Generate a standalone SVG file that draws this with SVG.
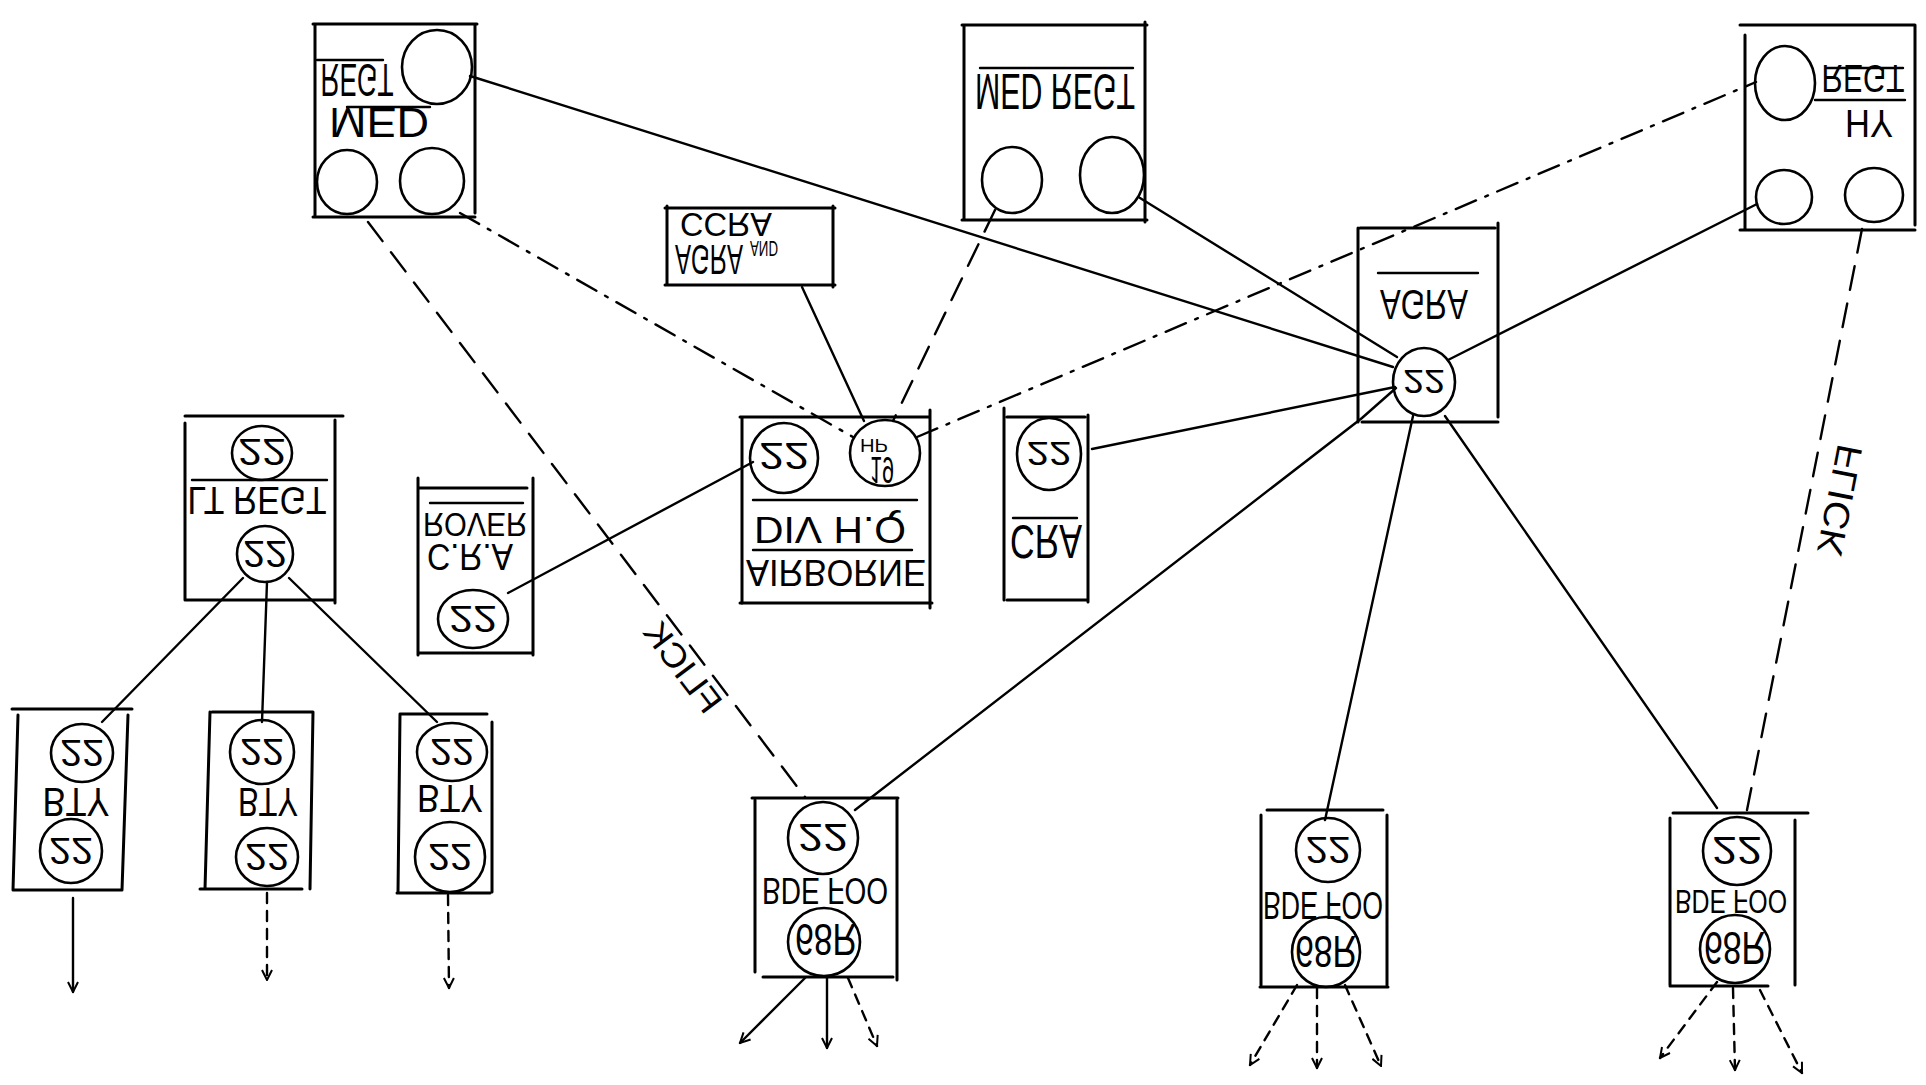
<svg xmlns="http://www.w3.org/2000/svg" width="1926" height="1085" viewBox="0 0 1926 1085">
<defs>
<style>
.b{fill:none;stroke:#000;stroke-width:3;stroke-linecap:round}
.c{fill:none;stroke:#000;stroke-width:2.6}
.l{fill:none;stroke:#000;stroke-width:2.4;stroke-linecap:round}
.t{font-family:"Liberation Sans",Arial,sans-serif;fill:#000;text-anchor:middle}
.d1{stroke-dasharray:24 14}
.d2{stroke-dasharray:22 10 3 10}
.d3{stroke-dasharray:10 8}
</style>
<marker id="v" viewBox="0 0 12 12" refX="11" refY="6" markerWidth="12" markerHeight="12" markerUnits="userSpaceOnUse" orient="auto">
<path d="M1,1 L11,6 L1,11" fill="none" stroke="#000" stroke-width="2"/>
</marker>
</defs>
<rect width="1926" height="1085" fill="#fff"/>

<g id="connectors">
<line class="l" x1="470" y1="76" x2="1393" y2="367"/>
<line class="l" x1="1140" y1="198" x2="1397" y2="357"/>
<line class="l d1" x1="995" y1="210" x2="893" y2="421" stroke-width="3.2"/>
<line class="l" x1="802" y1="287" x2="864" y2="421"/>
<line class="l d2" x1="460" y1="213" x2="853" y2="437"/>
<line class="l d1" x1="368" y1="222" x2="805" y2="797"/>
<line class="l d2" x1="917" y1="437" x2="1756" y2="82"/>
<line class="l" x1="1092" y1="449" x2="1395" y2="387" stroke-width="3"/>
<polyline class="l" points="1396,388 1362,418 855,810"/>
<line class="l" x1="1448" y1="360" x2="1757" y2="204"/>
<line class="l" x1="1413" y1="416" x2="1325" y2="820"/>
<line class="l" x1="1445" y1="416" x2="1717" y2="808"/>
<line class="l d1" x1="1862" y1="229" x2="1747" y2="810" stroke-width="3"/>
<line class="l" x1="508" y1="593" x2="753" y2="462"/>
<line class="l" x1="243" y1="578" x2="102" y2="722"/>
<line class="l" x1="267" y1="582" x2="262" y2="722"/>
<line class="l" x1="289" y1="578" x2="437" y2="722"/>
<line class="l" x1="73" y1="898" x2="73" y2="992" marker-end="url(#v)"/>
<line class="l d3" x1="267" y1="893" x2="267" y2="980" marker-end="url(#v)"/>
<line class="l d3" x1="448" y1="895" x2="449" y2="988" marker-end="url(#v)"/>
<line class="l" x1="805" y1="978" x2="740" y2="1043" stroke-width="3.2" marker-end="url(#v)"/>
<line class="l" x1="827" y1="978" x2="827" y2="1048" marker-end="url(#v)"/>
<line class="l d3" x1="848" y1="978" x2="877" y2="1046" marker-end="url(#v)"/>
<line class="l d3" x1="1297" y1="985" x2="1250" y2="1065" marker-end="url(#v)"/>
<line class="l d3" x1="1317" y1="988" x2="1317" y2="1068" marker-end="url(#v)"/>
<line class="l d3" x1="1345" y1="985" x2="1381" y2="1066" marker-end="url(#v)"/>
<line class="l d3" x1="1717" y1="982" x2="1660" y2="1058" marker-end="url(#v)"/>
<line class="l d3" x1="1733" y1="988" x2="1735" y2="1070" marker-end="url(#v)"/>
<line class="l d3" x1="1760" y1="990" x2="1802" y2="1073" marker-end="url(#v)"/>
<text class="t" font-size="34" textLength="105" lengthAdjust="spacingAndGlyphs" y="12" transform="translate(683,667) scale(1,-1) rotate(127.2)">FLICK</text>
<text class="t" font-size="36" textLength="112" lengthAdjust="spacingAndGlyphs" y="12" transform="translate(1840,500) scale(1,-1) rotate(-101)">FLICK</text>
</g>

<g id="med-regt-1">
<path class="b" d="M313,24 H477 M315,24 V215 M475,25 V213 M313,217 H475"/>
<ellipse class="c" cx="437" cy="67" rx="35" ry="37"/>
<ellipse class="c" cx="347" cy="182" rx="30" ry="32"/>
<ellipse class="c" cx="432" cy="181" rx="32" ry="33"/>
<path class="l" d="M317,60 H383 M347,107 H430"/>
<text class="t" font-size="46" textLength="73" lengthAdjust="spacingAndGlyphs" y="16.5" transform="matrix(1 0 0 -1 357 80)">REGT</text>
<text class="t" font-size="42" textLength="100" lengthAdjust="spacingAndGlyphs" y="15" transform="matrix(1 0 0 -1 379 123)">MED</text>
</g>

<g id="med-regt-2">
<path class="b" d="M962,25 H1147 M964,25 V220 M1145,22 V222 M962,220 H1147"/>
<ellipse class="c" cx="1012" cy="180" rx="30" ry="33"/>
<ellipse class="c" cx="1112" cy="175" rx="32" ry="38"/>
<path class="l" d="M980,68 H1133"/>
<text class="t" font-size="50" textLength="160" lengthAdjust="spacingAndGlyphs" y="18" transform="matrix(1 0 0 -1 1055 92)">MED REGT</text>
</g>

<g id="hy-regt">
<path class="b" d="M1740,25 H1915 M1745,35 V230 M1915,25 V225 M1740,230 H1915"/>
<ellipse class="c" cx="1785" cy="83" rx="30" ry="37"/>
<ellipse class="c" cx="1784" cy="197" rx="28" ry="27"/>
<ellipse class="c" cx="1874" cy="195" rx="29" ry="27"/>
<path class="l" d="M1827,68 H1903 M1815,100 H1905"/>
<text class="t" font-size="39" textLength="83" lengthAdjust="spacingAndGlyphs" y="14" transform="matrix(1 0 0 -1 1863 79)">REGT</text>
<text class="t" font-size="39" textLength="48" lengthAdjust="spacingAndGlyphs" y="14" transform="matrix(1 0 0 -1 1869 124)">HY</text>
</g>

<g id="agra-and-ccra">
<path class="b" d="M665,208 H835 M667,206 V285 M833,206 V287 M665,285 H835"/>
<text class="t" font-size="42" textLength="68" lengthAdjust="spacingAndGlyphs" y="15" transform="matrix(1 0 0 -1 709 260)">AGRA</text>
<text class="t" font-size="22" textLength="28" lengthAdjust="spacingAndGlyphs" y="8" transform="matrix(1 0 0 -1 764 249)">AND</text>
<text class="t" font-size="33" textLength="92" lengthAdjust="spacingAndGlyphs" y="12" transform="matrix(1 0 0 -1 726 225)">CCRA</text>
</g>

<g id="airborne-div-hq">
<path class="b" d="M740,417 H930 M742,417 V603 M930,410 V608" />
<path class="b" d="M740,603 H932" stroke-width="3.5"/>
<ellipse class="c" cx="784" cy="458" rx="34" ry="35"/>
<ellipse class="c" cx="885" cy="453" rx="35" ry="33"/>
<path class="l" d="M753,500 H917 M753,550 H912"/>
<text class="t" font-size="36" textLength="50" lengthAdjust="spacingAndGlyphs" y="13" transform="matrix(1 0 0 -1 784 456)">22</text>
<text class="t" font-size="19" textLength="28" lengthAdjust="spacingAndGlyphs" y="7" transform="matrix(1 0 0 -1 874 446)">HP</text>
<text class="t" font-size="36" textLength="24" lengthAdjust="spacingAndGlyphs" y="13" transform="matrix(1 0 0 -1 882 470)">19</text>
<text class="t" font-size="36" textLength="152" lengthAdjust="spacingAndGlyphs" y="13" transform="matrix(1 0 0 -1 830 530)">DIV H.Q</text>
<text class="t" font-size="37" textLength="180" lengthAdjust="spacingAndGlyphs" y="13.5" transform="matrix(1 0 0 -1 836 573)">AIRBORNE</text>
</g>

<g id="cra">
<path class="b" d="M1004,408 V600 M1088,415 V602 M1007,417 H1085 M1007,600 H1088"/>
<ellipse class="c" cx="1049" cy="454" rx="32" ry="36"/>
<path class="l" d="M1013,518 H1077"/>
<text class="t" font-size="34" textLength="45" lengthAdjust="spacingAndGlyphs" y="12" transform="matrix(1 0 0 -1 1049 454)">22</text>
<text class="t" font-size="48" textLength="72" lengthAdjust="spacingAndGlyphs" y="17.5" transform="matrix(1 0 0 -1 1046 542)">CRA</text>
</g>

<g id="agra">
<path class="b" d="M1360,228 H1495 M1358,228 V422 M1498,223 V417"/>
<path class="b" d="M1362,422 H1498" stroke-width="3.5"/>
<ellipse class="c" cx="1424" cy="382" rx="31" ry="34"/>
<path class="l" d="M1378,273 H1478"/>
<text class="t" font-size="42" textLength="88" lengthAdjust="spacingAndGlyphs" y="15" transform="matrix(1 0 0 -1 1424 305)">AGRA</text>
<text class="t" font-size="34" textLength="42" lengthAdjust="spacingAndGlyphs" y="12" transform="matrix(1 0 0 -1 1424 382)">22</text>
</g>

<g id="lt-regt">
<path class="b" d="M185,416 H343 M185,423 V600 M335,420 V603 M185,600 H335"/>
<ellipse class="c" cx="262" cy="453" rx="30" ry="27"/>
<ellipse class="c" cx="265" cy="554" rx="28" ry="28"/>
<path class="l" d="M192,480 H327"/>
<text class="t" font-size="36" textLength="48" lengthAdjust="spacingAndGlyphs" y="13" transform="matrix(1 0 0 -1 262 452)">22</text>
<text class="t" font-size="39" textLength="139" lengthAdjust="spacingAndGlyphs" y="14" transform="matrix(1 0 0 -1 257 501)">LT REGT</text>
<text class="t" font-size="36" textLength="44" lengthAdjust="spacingAndGlyphs" y="13" transform="matrix(1 0 0 -1 265 554)">22</text>
</g>

<g id="cra-rover">
<path class="b" d="M418,488 H527 M418,478 V655 M533,478 V655 M418,653 H533"/>
<ellipse class="c" cx="473" cy="619" rx="35" ry="29"/>
<path class="l" d="M430,503 H523"/>
<text class="t" font-size="33" textLength="104" lengthAdjust="spacingAndGlyphs" y="12" transform="matrix(1 0 0 -1 475 525)">ROVER</text>
<text class="t" font-size="37" textLength="86" lengthAdjust="spacingAndGlyphs" y="13.5" transform="matrix(1 0 0 -1 470 557)">C.R.A</text>
<text class="t" font-size="36" textLength="48" lengthAdjust="spacingAndGlyphs" y="13" transform="matrix(1 0 0 -1 473 619)">22</text>
</g>

<g id="bty-1">
<path class="b" d="M12,709 H132 M18,715 L13,890 M128,715 L122,890 M13,890 H122"/>
<ellipse class="c" cx="82" cy="753" rx="31" ry="29"/>
<ellipse class="c" cx="71" cy="851" rx="31" ry="32"/>
<text class="t" font-size="36" textLength="44" lengthAdjust="spacingAndGlyphs" y="13" transform="matrix(1 0 0 -1 82 753)">22</text>
<text class="t" font-size="40" textLength="67" lengthAdjust="spacingAndGlyphs" y="14.5" transform="matrix(1 0 0 -1 76 802)">BTY</text>
<text class="t" font-size="36" textLength="44" lengthAdjust="spacingAndGlyphs" y="13" transform="matrix(1 0 0 -1 71 851)">22</text>
</g>

<g id="bty-2">
<path class="b" d="M212,712 H313 M210,712 L205,889 M313,712 L310,889 M200,889 H302"/>
<ellipse class="c" cx="262" cy="752" rx="32" ry="32"/>
<ellipse class="c" cx="267" cy="857" rx="31" ry="29"/>
<text class="t" font-size="36" textLength="44" lengthAdjust="spacingAndGlyphs" y="13" transform="matrix(1 0 0 -1 262 752)">22</text>
<text class="t" font-size="40" textLength="60" lengthAdjust="spacingAndGlyphs" y="14.5" transform="matrix(1 0 0 -1 268 802)">BTY</text>
<text class="t" font-size="36" textLength="44" lengthAdjust="spacingAndGlyphs" y="13" transform="matrix(1 0 0 -1 267 857)">22</text>
</g>

<g id="bty-3">
<path class="b" d="M400,714 H487 M400,714 L398,893 M492,722 V892 M397,893 H490"/>
<ellipse class="c" cx="452" cy="752" rx="35" ry="29"/>
<ellipse class="c" cx="450" cy="857" rx="35" ry="35"/>
<text class="t" font-size="36" textLength="44" lengthAdjust="spacingAndGlyphs" y="13" transform="matrix(1 0 0 -1 452 752)">22</text>
<text class="t" font-size="39" textLength="66" lengthAdjust="spacingAndGlyphs" y="14" transform="matrix(1 0 0 -1 450 799)">BTY</text>
<text class="t" font-size="36" textLength="44" lengthAdjust="spacingAndGlyphs" y="13" transform="matrix(1 0 0 -1 450 857)">22</text>
</g>

<g id="bde-foo-1">
<path class="b" d="M752,798 H898" stroke-width="4"/>
<path class="b" d="M755,800 V972 M897,800 V980"/>
<path class="b" d="M763,977 H893" stroke-width="4"/>
<ellipse class="c" cx="823" cy="838" rx="35" ry="36"/>
<ellipse class="c" cx="824" cy="942" rx="36" ry="34"/>
<text class="t" font-size="39" textLength="50" lengthAdjust="spacingAndGlyphs" y="14" transform="matrix(1 0 0 -1 823 838)">22</text>
<text class="t" font-size="37" textLength="126" lengthAdjust="spacingAndGlyphs" y="13.5" transform="matrix(1 0 0 -1 825 891)">BDE FOO</text>
<text class="t" font-size="44" textLength="62" lengthAdjust="spacingAndGlyphs" y="16" transform="matrix(1 0 0 -1 826 940)">68R</text>
</g>

<g id="bde-foo-2">
<path class="b" d="M1267,810 H1383 M1261,815 V985 M1387,815 V985 M1260,987 H1388"/>
<ellipse class="c" cx="1328" cy="850" rx="32" ry="32"/>
<ellipse class="c" cx="1326" cy="952" rx="34" ry="35"/>
<text class="t" font-size="36" textLength="45" lengthAdjust="spacingAndGlyphs" y="13" transform="matrix(1 0 0 -1 1328 850)">22</text>
<text class="t" font-size="39" textLength="120" lengthAdjust="spacingAndGlyphs" y="14" transform="matrix(1 0 0 -1 1323 906)">BDE FOO</text>
<text class="t" font-size="44" textLength="62" lengthAdjust="spacingAndGlyphs" y="16" transform="matrix(1 0 0 -1 1326 952)">68R</text>
</g>

<g id="bde-foo-3">
<path class="b" d="M1673,813 H1808" stroke-width="3.5"/>
<path class="b" d="M1670,818 V985 M1795,820 V985 M1670,986 H1768"/>
<ellipse class="c" cx="1737" cy="851" rx="34" ry="34"/>
<ellipse class="c" cx="1735" cy="949" rx="35" ry="34"/>
<text class="t" font-size="39" textLength="50" lengthAdjust="spacingAndGlyphs" y="14" transform="matrix(1 0 0 -1 1737 851)">22</text>
<text class="t" font-size="33" textLength="112" lengthAdjust="spacingAndGlyphs" y="12" transform="matrix(1 0 0 -1 1731 902)">BDE FOO</text>
<text class="t" font-size="47" textLength="62" lengthAdjust="spacingAndGlyphs" y="17" transform="matrix(1 0 0 -1 1735 949)">68R</text>
</g>
</svg>
